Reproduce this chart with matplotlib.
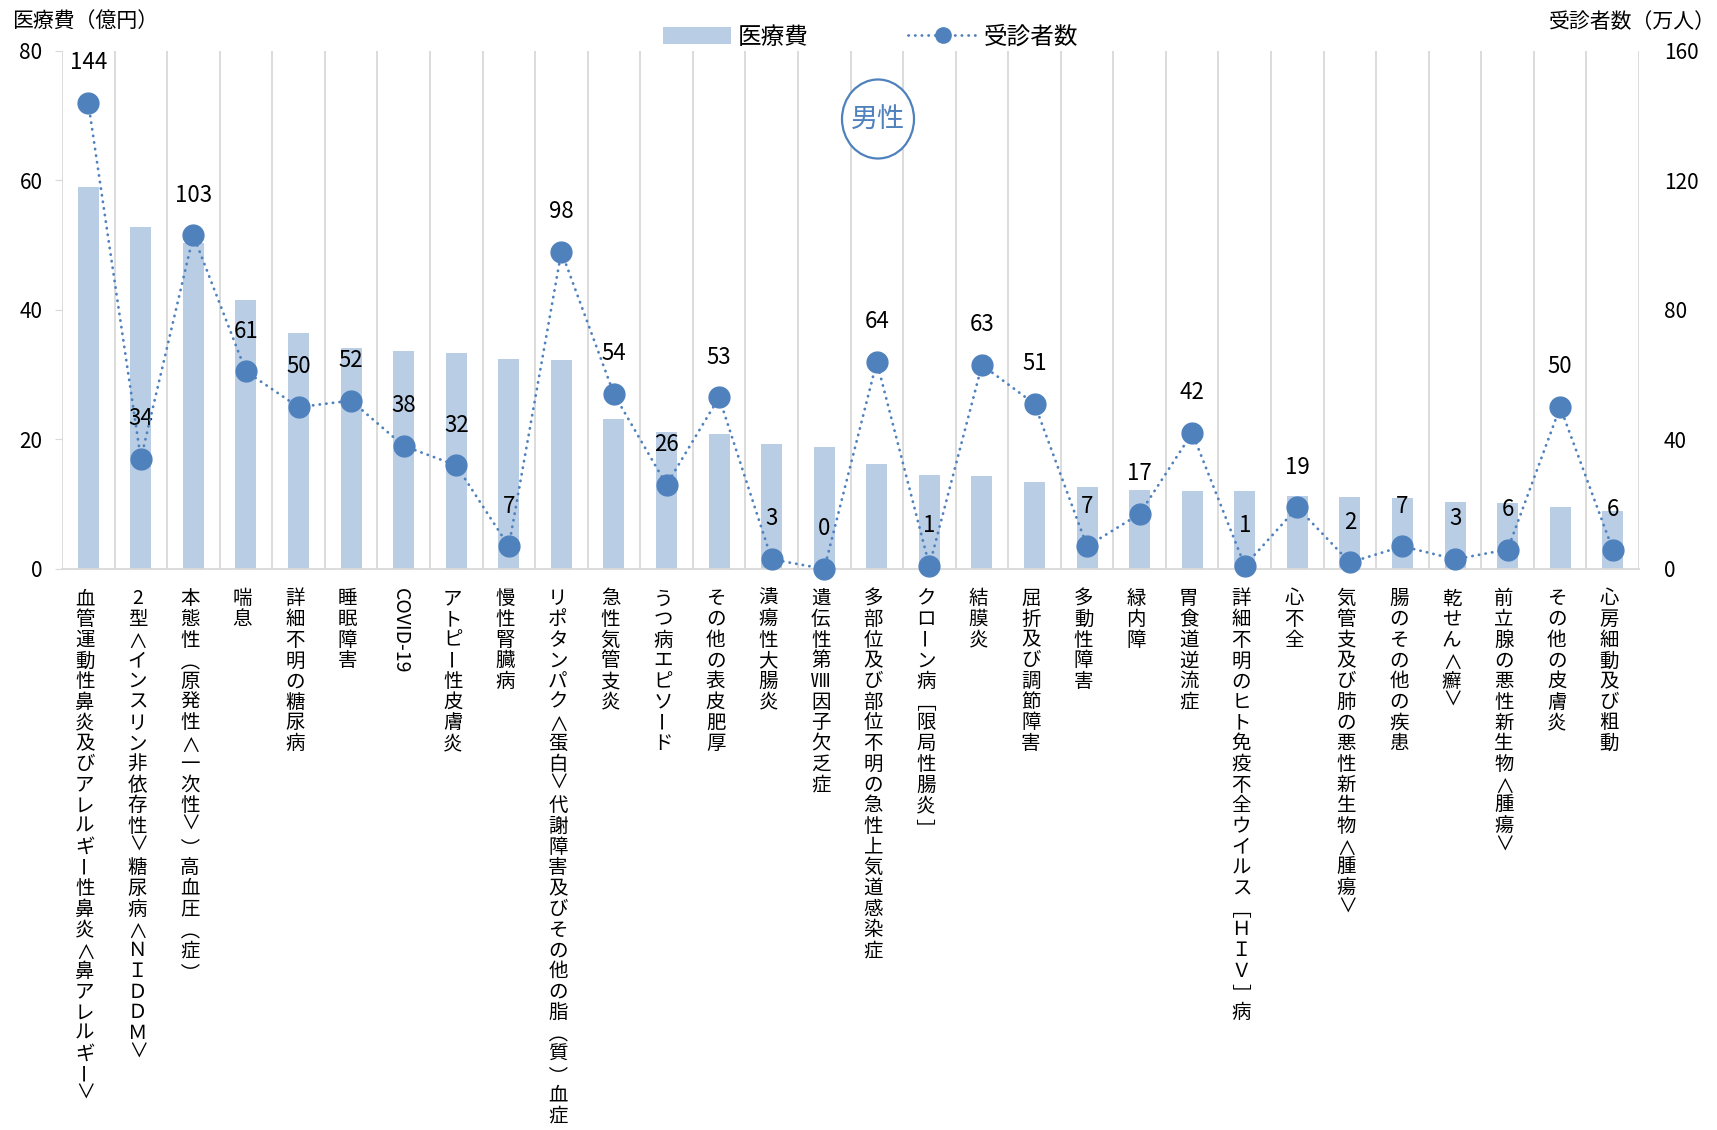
import matplotlib
matplotlib.use("Agg")
import matplotlib.pyplot as plt
from matplotlib.patches import Ellipse, Patch
from matplotlib.lines import Line2D

plt.rcParams['font.family'] = ['Noto Sans CJK JP', 'DejaVu Sans']

categories = [
    "血管運動性鼻炎及びアレルギー性鼻炎＜鼻アレルギー＞",
    "2型＜インスリン非依存性＞糖尿病＜ＮＩＤＤＭ＞",
    "本態性（原発性＜一次性＞）高血圧（症）",
    "喘息",
    "詳細不明の糖尿病",
    "睡眠障害",
    "COVID-19",
    "アトピー性皮膚炎",
    "慢性腎臓病",
    "リポタンパク＜蛋白＞代謝障害及びその他の脂（質）血症",
    "急性気管支炎",
    "うつ病エピソード",
    "その他の表皮肥厚",
    "潰瘍性大腸炎",
    "遺伝性第Ⅷ因子欠乏症",
    "多部位及び部位不明の急性上気道感染症",
    "クローン病［限局性腸炎］",
    "結膜炎",
    "屈折及び調節障害",
    "多動性障害",
    "緑内障",
    "胃食道逆流症",
    "詳細不明のヒト免疫不全ウイルス［ＨＩＶ］病",
    "心不全",
    "気管支及び肺の悪性新生物＜腫瘍＞",
    "腸のその他の疾患",
    "乾せん＜癬＞",
    "前立腺の悪性新生物＜腫瘍＞",
    "その他の皮膚炎",
    "心房細動及び粗動",
]

# 医療費 (億円)
cost = [59.0, 52.8, 50.3, 41.6, 36.5, 34.1, 33.6, 33.4, 32.4, 32.3,
        23.1, 21.1, 20.9, 19.3, 18.8, 16.2, 14.5, 14.3, 13.4, 12.7,
        12.2, 12.1, 12.1, 11.2, 11.1, 10.9, 10.3, 10.2, 9.5, 8.9]

# 受診者数 (万人)
patients = [144, 34, 103, 61, 50, 52, 38, 32, 7, 98,
            54, 26, 53, 3, 0, 64, 1, 63, 51, 7,
            17, 42, 1, 19, 2, 7, 3, 6, 50, 6]

bar_color = "#B9CDE5"
line_color = "#4F81BD"
grid_color = "#D9D9D9"

fig = plt.figure(figsize=(17.17, 11.30), dpi=100)
ax = fig.add_axes([0.0361, 0.4965, 0.9185, 0.4584])
ax2 = ax.twinx()

x = list(range(len(categories)))

# vertical separators between categories
for i in range(len(categories) + 1):
    ax.axvline(i - 0.5, color=grid_color, lw=1.3, zorder=0)

ax.bar(x, cost, width=0.4, color=bar_color, zorder=2)
ax.set_xlim(-0.5, len(categories) - 0.5)
ax.set_ylim(0, 80)
ax.set_yticks([0, 20, 40, 60, 80])
ax.tick_params(axis='y', labelsize=15, length=5, color=grid_color, pad=9)
ax.set_xticks(x)
ax.set_xticklabels([""] * len(x))
ax.tick_params(axis='x', length=0)
for s in ["top", "right", "left"]:
    ax.spines[s].set_visible(False)
ax.spines["bottom"].set_color(grid_color)
ax.spines["bottom"].set_linewidth(1.3)

ax2.plot(x, patients, color=line_color, lw=2, linestyle=(0, (0.1, 2.3)),
         dash_capstyle='round', marker='o', markersize=15, clip_on=False, zorder=5)
ax2.set_ylim(0, 160)
ax2.set_yticks([0, 40, 80, 120, 160])
ax2.tick_params(axis='y', labelsize=15, length=0, pad=18)
for s in ax2.spines.values():
    s.set_visible(False)

for xi, v in zip(x, patients):
    ax2.annotate(str(v), xy=(xi, v), xytext=(0, 29), textcoords='offset points',
                 ha='center', va='center', fontsize=16, annotation_clip=False)

# vertical (tategaki) category labels
# brackets and the long vowel mark are turned sideways; (dx, dy) in points
# puts their ink where vertical typesetting would
rotated = {"ー": (-3.1, 0.0), "（": (-11.5, -8.4), "［": (-11.3, -8.2),
           "）": (-2.4, 0.0), "］": (-1.9, -0.6),
           "＜": (-3.1, -1.3), "＞": (-3.1, 2.5)}
y0 = 21.5
step = 14.9
dx0 = -2.5
for xi, name in zip(x, categories):
    if name.isascii():
        ax.annotate(name, xy=(xi, 0), xycoords=('data', 'axes fraction'),
                    xytext=(dx0, -y0 + step / 2), textcoords='offset points',
                    ha='center', va='top', rotation=-90, fontsize=14,
                    annotation_clip=False)
        continue
    for k, ch in enumerate(name):
        if ch in rotated:
            ddx, ddy = rotated[ch]
            ax.annotate(ch, xy=(xi, 0), xycoords=('data', 'axes fraction'),
                        xytext=(dx0 + ddx, -y0 - k * step + ddy),
                        textcoords='offset points', ha='center', va='center',
                        rotation=-90, fontsize=14, annotation_clip=False)
        else:
            ax.annotate(ch, xy=(xi, 0), xycoords=('data', 'axes fraction'),
                        xytext=(dx0, -y0 - k * step), textcoords='offset points',
                        ha='center', va='center', fontsize=14,
                        annotation_clip=False)

# axis titles
fig.text(12 / 1717, 1 - 22 / 1130, "医療費（億円）", fontsize=15, ha='left', va='center')
fig.text(1 - 1 / 1717, 1 - 22 / 1130, "受診者数（万人）", fontsize=15, ha='right', va='center')

# legend
handles = [
    Patch(facecolor=bar_color, edgecolor='none', label="医療費"),
    Line2D([0], [0], color=line_color, lw=2, linestyle=(0, (0.1, 2.3)),
           dash_capstyle='round', marker='o', markersize=11, label="受診者数"),
]
fig.legend(handles=handles, loc='center', bbox_to_anchor=(0.507, 1 - 37 / 1130),
           ncol=2, frameon=False, fontsize=17, handlelength=2.9,
           handletextpad=0.3, columnspacing=4.2)

# 男性 badge
ell = Ellipse((878 / 1717, 1 - 119 / 1130), 72 / 1717, 79 / 1130,
              transform=fig.transFigure, facecolor='white', edgecolor=line_color, lw=1.6)
fig.patches.append(ell)
fig.text(878 / 1717, 1 - 120 / 1130, "男性", fontsize=19.5, color=line_color,
         ha='center', va='center')

fig.savefig("out.png", dpi=100)
